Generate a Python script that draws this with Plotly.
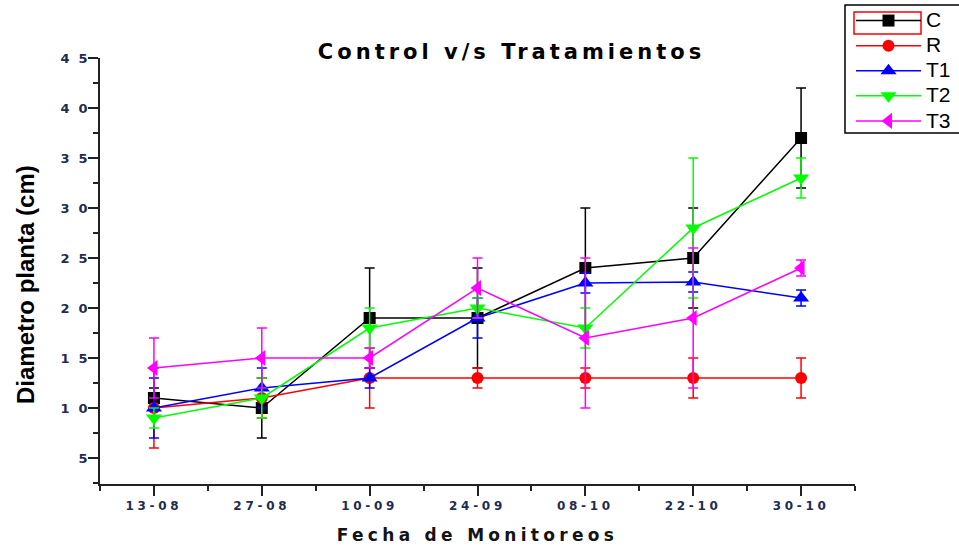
import plotly.graph_objects as go

# ---- data ----
dates = ["13-08", "27-08", "10-09", "24-09", "08-10", "22-10", "30-10"]
C_vals = [11, 10, 19, 19, 24, 25, 37]
C_err = [1, 3, 5, 5, 6, 5, 5]
R_vals = [10, 11, 13, 13, 13, 13, 13]
R_err = [4, 2, 3, 1, 1, 2, 2]
T1_vals = [10, 12, 13, 19, 22.5, 22.6, 21]
T1_err = [3, 2, 1, 2, 1, 1, 0.8]
T2_vals = [9, 11, 18, 20, 18, 28, 33]
T2_err = [1, 2, 2, 1, 2, 7, 2]
T3_vals = [14, 15, 15, 22, 17, 19, 24]
T3_err_plus = [3, 3, 1, 3, 8, 7, 0.8]
T3_err_minus = [3, 3, 1, 3, 7, 7, 0.8]
y_ticks = [5, 10, 15, 20, 25, 30, 35, 40, 45]

W, H = 959, 548
L, R_, T, B = 100, 855, 58, 484  # plot area in px


def px_x(p):
    return (p - L) / (R_ - L)


def px_y(p):
    return (B - p) / (B - T)


def spaced(s, sp):
    return f'<span style="letter-spacing:{sp}px">{s}</span>'


WIDE = "DejaVu Sans, Verdana, sans-serif"
NARROW = "Liberation Sans Narrow, Arial Narrow, sans-serif"

xs = list(range(len(dates)))

series = [
    ("C", C_vals, dict(type="data", array=C_err), "black", "square", 12),
    ("R", R_vals, dict(type="data", array=R_err), "red", "circle", 12),
    ("T1", T1_vals, dict(type="data", array=T1_err), "blue", "triangle-up", 14),
    ("T2", T2_vals, dict(type="data", array=T2_err), "#00ff00", "triangle-down", 14),
    ("T3", T3_vals, dict(type="data", array=T3_err_plus, arrayminus=T3_err_minus, symmetric=False),
     "magenta", "triangle-left", 14),
]

fig = go.Figure()
for name, vals, err, col, sym, size in series:
    err = dict(err, color=col, thickness=1.5, width=5, visible=True)
    fig.add_trace(go.Scatter(
        x=xs, y=vals, name=f'<span style="font-size:21px">{name}</span>',
        mode="lines+markers",
        line=dict(color=col, width=1.5),
        marker=dict(color=col, symbol=sym, size=size),
        error_y=err,
    ))

tick_font = dict(family=WIDE, size=12, color="#1f2c50", weight="bold")

fig.update_layout(
    width=W, height=H,
    margin=dict(l=L, r=W - R_, t=T, b=H - B, autoexpand=False),
    paper_bgcolor="white", plot_bgcolor="white",
    showlegend=True,
    legend=dict(
        x=px_x(851), y=px_y(3), xanchor="left", yanchor="top",
        bgcolor="rgba(0,0,0,0)", borderwidth=0,
        font=dict(family="Liberation Sans, Arial, sans-serif", size=17, color="black"),
        itemwidth=65, tracegroupgap=0,
    ),
    xaxis=dict(
        range=[-0.5, 6.5], tickvals=xs,
        ticktext=[spaced(d, 3.7) for d in dates],
        showgrid=False, zeroline=False,
        showline=True, linecolor="#222", linewidth=1.5,
        ticks="outside", ticklen=10, tickwidth=1.5, tickcolor="#222",
        minor=dict(tickvals=[i - 0.5 for i in range(len(dates) + 1)],
                   ticks="outside", ticklen=5, tickwidth=1.5, tickcolor="#222"),
        tickfont=tick_font,
        title=dict(text=spaced("<b>Fecha de Monitoreos</b>", 4.3),
                   font=dict(family=WIDE, size=17, color="#141414"),
                   standoff=17),
    ),
    yaxis=dict(
        range=[2.4, 45], tickvals=y_ticks,
        showgrid=False, zeroline=False,
        showline=True, linecolor="#222", linewidth=1.5,
        ticks="outside", ticklen=10, tickwidth=1.5, tickcolor="#222",
        minor=dict(tickvals=[2.5 + 5 * i for i in range(9)],
                   ticks="outside", ticklen=5, tickwidth=1.5, tickcolor="#222"),
        tickfont=dict(tick_font, size=13),
        ticktext=[spaced(str(v), 9) for v in y_ticks],
        ticklabelstandoff=-11,
    ),
    title=dict(text=spaced("<b>Control v/s Tratamientos</b>", 4),
               x=511.5 / W, xanchor="center", y=1 - 52 / H, yanchor="middle",
               font=dict(family=WIDE, size=21, color="black")),
    annotations=[
        dict(text="<b>Diametro planta (cm)</b>", textangle=-90,
             xref="paper", yref="paper", x=px_x(25), y=px_y(285),
             xanchor="center", yanchor="middle", showarrow=False,
             font=dict(family=NARROW, size=24, color="black")),
    ],
    shapes=[
        dict(type="rect", xref="paper", yref="paper", layer="below",
             x0=px_x(845), x1=px_x(975), y0=px_y(133), y1=px_y(5),
             line=dict(color="black", width=1.5), fillcolor="white"),
        dict(type="rect", xref="paper", yref="paper", layer="above",
             x0=px_x(854), x1=px_x(921), y0=px_y(34), y1=px_y(12),
             line=dict(color="red", width=1.5), fillcolor="rgba(0,0,0,0)"),
    ],
)

fig.write_html("out.html")
